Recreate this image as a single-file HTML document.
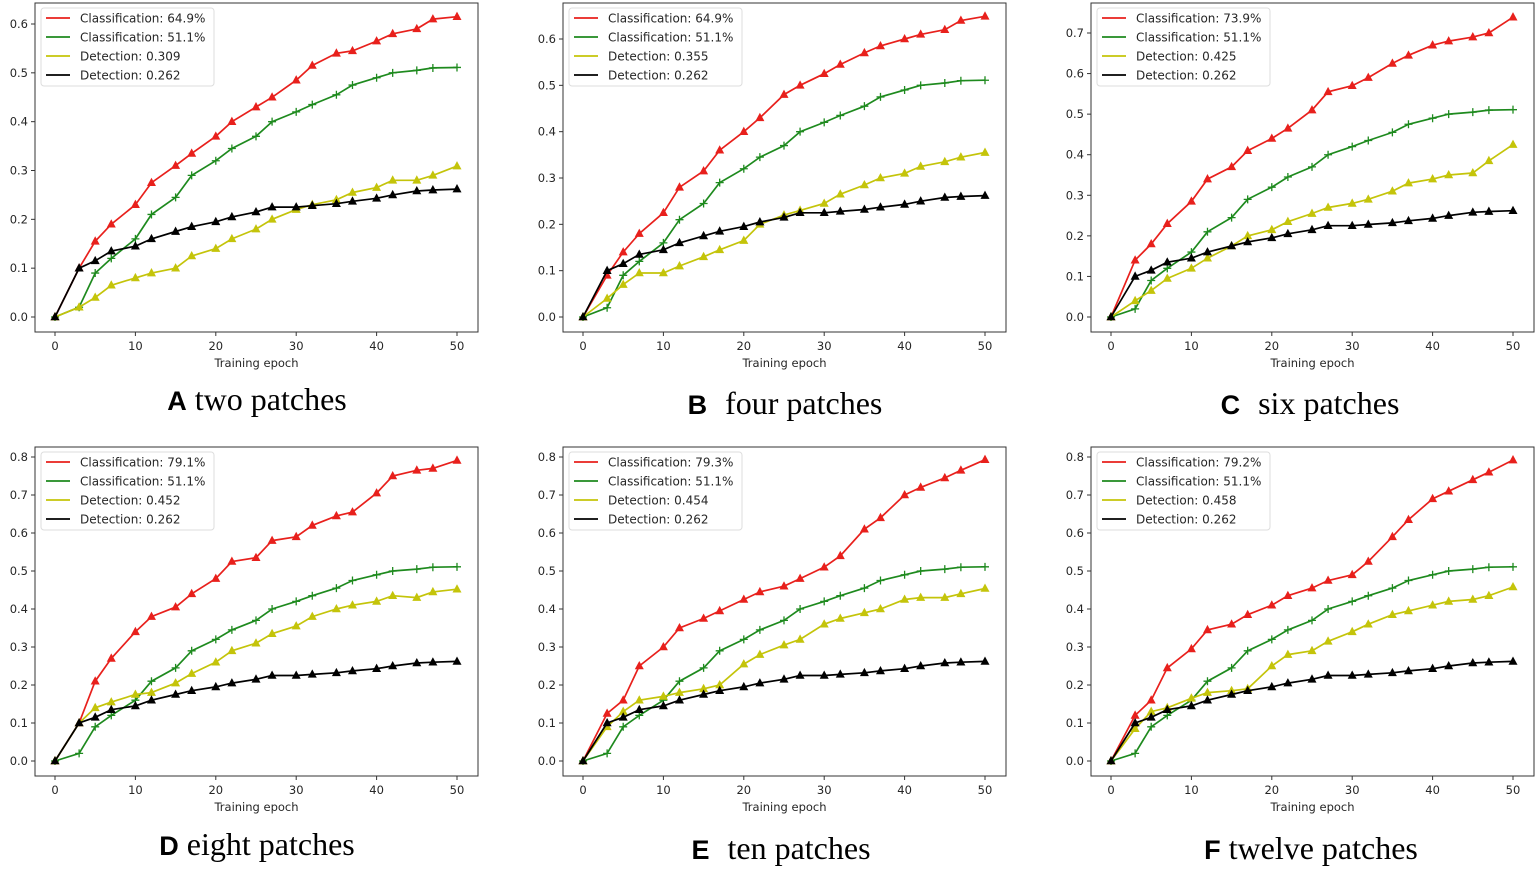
<!DOCTYPE html>
<html><head><meta charset="utf-8">
<style>
html,body{margin:0;padding:0;background:#fff;}
svg{display:block;}
.tick{font-family:"DejaVu Sans","Liberation Sans",sans-serif;font-size:11.5px;fill:#262626;}
.leg{font-family:"DejaVu Sans","Liberation Sans",sans-serif;font-size:12px;fill:#262626;}
.cap{font-family:"Liberation Serif",serif;font-size:32px;fill:#000;}
.capb{font-family:"Liberation Sans",sans-serif;font-weight:bold;font-size:27px;fill:#000;}
</style></head>
<body>
<svg id="fig" width="1535" height="870" viewBox="0 0 1535 870" xmlns="http://www.w3.org/2000/svg"></svg>
<script>
const epochs=[0,3,5,7,10,12,15,17,20,22,25,27,30,32,35,37,40,42,45,47,50];
const greenVals=[0,0.02,0.09,0.12,0.16,0.21,0.245,0.29,0.32,0.345,0.37,0.40,0.42,0.435,0.455,0.475,0.49,0.50,0.505,0.51,0.511];
const blackVals=[0,0.10,0.115,0.135,0.145,0.16,0.175,0.185,0.195,0.205,0.215,0.225,0.225,0.228,0.232,0.237,0.243,0.25,0.258,0.26,0.262];
const redA=[0,0.10,0.155,0.19,0.23,0.275,0.31,0.335,0.37,0.40,0.43,0.45,0.485,0.515,0.54,0.545,0.565,0.58,0.59,0.61,0.615];
const yelA=[0,0.02,0.04,0.065,0.08,0.09,0.10,0.125,0.14,0.16,0.18,0.20,0.22,0.23,0.24,0.255,0.265,0.28,0.28,0.29,0.309];
const redB=[0,0.09,0.14,0.18,0.225,0.28,0.315,0.36,0.40,0.43,0.48,0.50,0.525,0.545,0.57,0.585,0.60,0.61,0.62,0.64,0.649];
const yelB=[0,0.04,0.07,0.095,0.095,0.11,0.13,0.145,0.165,0.20,0.22,0.23,0.245,0.265,0.285,0.30,0.31,0.325,0.335,0.345,0.355];
const redC=[0,0.14,0.18,0.23,0.285,0.34,0.37,0.41,0.44,0.465,0.51,0.555,0.57,0.59,0.625,0.645,0.67,0.68,0.69,0.70,0.739];
const yelC=[0,0.04,0.065,0.095,0.12,0.145,0.175,0.20,0.215,0.235,0.255,0.27,0.28,0.29,0.31,0.33,0.34,0.35,0.355,0.385,0.425];
const redD=[0,0.10,0.21,0.27,0.34,0.38,0.405,0.44,0.48,0.525,0.535,0.58,0.59,0.62,0.645,0.655,0.705,0.75,0.765,0.77,0.791];
const yelD=[0,0.10,0.14,0.155,0.175,0.18,0.205,0.23,0.26,0.29,0.31,0.335,0.355,0.38,0.40,0.41,0.42,0.435,0.43,0.445,0.452];
const redE=[0,0.125,0.16,0.25,0.30,0.35,0.375,0.395,0.425,0.445,0.46,0.48,0.51,0.54,0.61,0.64,0.70,0.72,0.745,0.765,0.793];
const yelE=[0,0.09,0.13,0.16,0.17,0.18,0.19,0.20,0.255,0.28,0.305,0.32,0.36,0.375,0.39,0.40,0.425,0.43,0.43,0.44,0.454];
const redF=[0,0.12,0.16,0.245,0.295,0.345,0.36,0.385,0.41,0.435,0.455,0.475,0.49,0.525,0.59,0.635,0.69,0.71,0.74,0.76,0.792];
const yelF=[0,0.085,0.13,0.14,0.165,0.18,0.185,0.19,0.25,0.28,0.29,0.315,0.34,0.36,0.385,0.395,0.41,0.42,0.425,0.435,0.458];
const xTicks=[0,10,20,30,40,50];
const panelLetters=["A","B","C","D","E","F"];
const panelTitles=["two patches","four patches","six patches","eight patches","ten patches","twelve patches"];
const redLabels=["Classification: 64.9%","Classification: 64.9%","Classification: 73.9%","Classification: 79.1%","Classification: 79.3%","Classification: 79.2%"];
const yelLabels=["Detection: 0.309","Detection: 0.355","Detection: 0.425","Detection: 0.452","Detection: 0.454","Detection: 0.458"];
const yTickMax=[0.6,0.6,0.7,0.8,0.8,0.8];

const NS="http://www.w3.org/2000/svg";
const svg=document.getElementById('fig');
function mk(tag,attrs,parent){const e=document.createElementNS(NS,tag);for(const k in attrs)e.setAttribute(k,attrs[k]);(parent||svg).appendChild(e);return e;}

const layouts=[
 {l:35,t:3,r:478,b:332,y0:317,yTop:24},
 {l:563,t:3,r:1006,b:332,y0:317,yTop:39},
 {l:1091,t:3,r:1534,b:332,y0:317,yTop:33},
 {l:35,t:447,r:478,b:776,y0:761,yTop:457},
 {l:563,t:447,r:1006,b:776,y0:761,yTop:457},
 {l:1091,t:447,r:1534,b:776,y0:761,yTop:457}];
const capPos=[[257,410],[785,414],[1310,414],[257,855],[781,859],[1311,859]];
const capGap=[8,18,18,8,18,8];
const reds=[redA,redB,redC,redD,redE,redF];
const yels=[yelA,yelB,yelC,yelD,yelE,yelF];

layouts.forEach((L,i)=>{
  const g=mk('g',{});
  
  
  const x0=L.l+20, x1=L.r-21;
  const xs=v=>x0+(x1-x0)*v/50;
  const ys=v=>L.y0-(L.y0-L.yTop)*v/yTickMax[i];
  const frame=mk('rect',{x:L.l,y:L.t,width:L.r-L.l,height:L.b-L.t,fill:'none',stroke:'#333','stroke-width':1},g);
  
  
  const n=Math.round(yTickMax[i]*10);
  for(let k=0;k<=n;k++){
    const v=k/10, y=ys(v);
    mk('line',{x1:L.l-4,x2:L.l,y1:y,y2:y,stroke:'#333'},g);
    const t=mk('text',{x:L.l-7,y:y+4,'text-anchor':'end',class:'tick'},g);
    t.textContent=v.toFixed(1);
    
    
  }
  xTicks.forEach(v=>{
    const x=xs(v);
    mk('line',{x1:x,x2:x,y1:L.b,y2:L.b+4,stroke:'#333'},g);
    const t=mk('text',{x:x,y:L.b+18,'text-anchor':'middle',class:'tick'},g);
    t.textContent=v;
    
    
  });
  const xt=mk('text',{x:(L.l+L.r)/2,y:L.b+35,'text-anchor':'middle',class:'tick'},g);
  xt.textContent='Training epoch';
  
  
  const series=[[reds[i],'#e8201c','tri','red-series'],[greenVals,'#1e8a1e','plus','green-series'],[yels[i],'#c4c40a','tri','yellow-series'],[blackVals,'#000','tri','black-series']];
  series.forEach(([vals,col,mkType,name])=>{
    const sg=mk('g',{},g);
    
    
    const pts=vals.map((v,j)=>xs(epochs[j]).toFixed(1)+','+ys(v).toFixed(1)).join(' ');
    mk('polyline',{points:pts,fill:'none',stroke:col,'stroke-width':1.7},sg);
    vals.forEach((v,j)=>{
      const x=xs(epochs[j]),y=ys(v);
      let m;
      if(mkType==='tri') m=mk('polygon',{points:`${x},${y-5} ${x-4.5},${y+3.3} ${x+4.5},${y+3.3}`,fill:col},sg);
      else m=mk('path',{d:`M${x-4},${y}H${x+4}M${x},${y-4}V${y+4}`,stroke:col,'stroke-width':1.3},sg);
      
      
    });
  });
  const lg=mk('g',{},g);
  
  
  mk('rect',{x:L.l+6,y:L.t+5,width:173,height:78,rx:3,fill:'#fff','fill-opacity':0.85,stroke:'#ddd'},lg);
  const labs=[[redLabels[i],'#e8201c'],['Classification: 51.1%','#1e8a1e'],[yelLabels[i],'#c4c40a'],['Detection: 0.262','#000']];
  labs.forEach(([txt,col],k)=>{
    const y=L.t+15+k*19;
    mk('line',{x1:L.l+11,x2:L.l+35,y1:y,y2:y,stroke:col,'stroke-width':1.8},lg);
    const t=mk('text',{x:L.l+45,y:y+4.5,class:'leg'},lg);
    t.textContent=txt;
    
    
  });
  const c=mk('text',{x:capPos[i][0],y:capPos[i][1],'text-anchor':'middle'},svg);
  
  
  const b=document.createElementNS(NS,'tspan');b.setAttribute('class','capb');b.textContent=panelLetters[i];c.appendChild(b);
  const s=document.createElementNS(NS,'tspan');s.setAttribute('class','cap');s.setAttribute('dx',capGap[i]);s.textContent=panelTitles[i];c.appendChild(s);
});
</script>
</body></html>
